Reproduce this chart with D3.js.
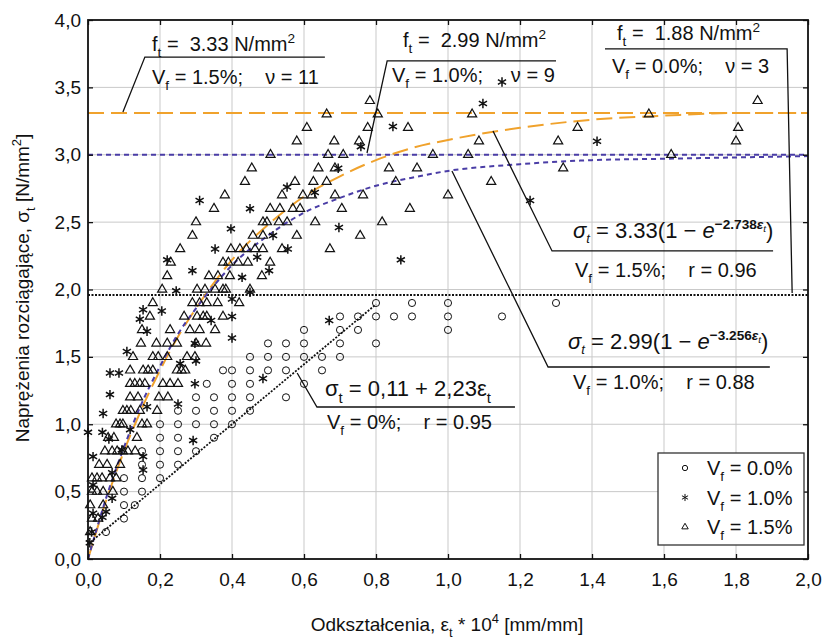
<!DOCTYPE html>
<html>
<head>
<meta charset="utf-8">
<script src="https://cdn.jsdelivr.net/npm/d3@7"></script>
<style>
  body { margin: 0; background: #fff; }
  text { font-family: "Liberation Sans", Arial, sans-serif; fill: #111; white-space: pre; }
</style>
</head>
<body>
<svg id="chart" width="826" height="639"></svg>
<script>
// ---- data ----
const xTicks = [0, 0.2, 0.4, 0.6, 0.8, 1.0, 1.2, 1.4, 1.6, 1.8, 2.0];
const xTickLabels = ["0,0", "0,2", "0,4", "0,6", "0,8", "1,0", "1,2", "1,4", "1,6", "1,8", "2,0"];
const yTicks = [0, 0.5, 1.0, 1.5, 2.0, 2.5, 3.0, 3.5, 4.0];
const yTickLabels = ["0,0", "0,5", "1,0", "1,5", "2,0", "2,5", "3,0", "3,5", "4,0"];

// Vf = 0.0 % (circles), grouped by stress level
const circleRows = [
  [1.9, [0.8, 0.9, 1.0, 1.3]],
  [1.8, [0.7, 0.75, 0.8, 0.85, 0.9, 1.0, 1.15]],
  [1.7, [0.6, 0.7, 0.75, 1.0]],
  [1.6, [0.5, 0.55, 0.6, 0.7, 0.8]],
  [1.5, [0.45, 0.5, 0.55, 0.6, 0.65, 0.7]],
  [1.4, [0.375, 0.4, 0.45, 0.5, 0.55, 0.65]],
  [1.3, [0.33, 0.4, 0.45, 0.6]],
  [1.2, [0.3, 0.35, 0.4, 0.45, 0.55]],
  [1.1, [0.25, 0.3, 0.35, 0.4, 0.45]],
  [1.0, [0.2, 0.25, 0.3, 0.35, 0.4]],
  [0.9, [0.2, 0.25, 0.35]],
  [0.8, [0.15, 0.2, 0.25, 0.3]],
  [0.7, [0.15, 0.2, 0.25]],
  [0.6, [0.1, 0.15, 0.2]],
  [0.5, [0.1, 0.15]],
  [0.4, [0.1, 0.13]],
  [0.3, [0.1]],
  [0.2, [0.05]]
];

// Vf = 1.5 % (triangles)
const triangleRows = [
  [3.4, [0.783, 1.86]],
  [3.3, [0.663, 0.805, 1.067, 1.558]],
  [3.2, [0.608, 0.777, 0.889, 1.36, 1.806]],
  [3.1, [0.58, 0.684, 0.753, 1.086, 1.306, 1.80]],
  [3.0, [0.507, 0.667, 0.709, 0.958, 1.056, 1.62]],
  [2.9, [0.455, 0.64, 0.686, 0.836, 0.914, 1.32]],
  [2.8, [0.436, 0.575, 0.626, 0.663, 0.855, 1.12]],
  [2.7, [0.38, 0.539, 0.597, 0.622, 0.686, 0.764, 1.0]],
  [2.6, [0.35, 0.506, 0.533, 0.569, 0.589, 0.705, 0.894]],
  [2.5, [0.30, 0.486, 0.497, 0.53, 0.553, 0.631, 0.817]],
  [2.4, [0.29, 0.458, 0.486, 0.58, 0.756]],
  [2.3, [0.256, 0.397, 0.422, 0.44, 0.464, 0.486, 0.539, 0.672]],
  [2.2, [0.23, 0.375, 0.39, 0.417, 0.444, 0.506]],
  [2.1, [0.22, 0.336, 0.361, 0.394, 0.483]],
  [2.0, [0.206, 0.303, 0.325, 0.353, 0.375, 0.383, 0.45]],
  [1.9, [0.18, 0.29, 0.31, 0.33, 0.36, 0.42]],
  [1.8, [0.172, 0.267, 0.303, 0.32, 0.33, 0.375]],
  [1.7, [0.15, 0.228, 0.283, 0.31, 0.353]],
  [1.6, [0.147, 0.19, 0.22, 0.247, 0.30, 0.328]],
  [1.5, [0.125, 0.18, 0.195, 0.22, 0.275, 0.297]],
  [1.4, [0.117, 0.153, 0.167, 0.18, 0.247, 0.26, 0.27]],
  [1.3, [0.117, 0.13, 0.144, 0.158, 0.208, 0.228, 0.25]],
  [1.2, [0.117, 0.139, 0.197, 0.222]],
  [1.1, [0.097, 0.108, 0.119, 0.144, 0.192]],
  [1.0, [0.078, 0.089, 0.097, 0.15, 0.164]],
  [0.9, [0.056, 0.072, 0.136]],
  [0.8, [0.047, 0.067, 0.081, 0.097, 0.111, 0.131]],
  [0.7, [0.031, 0.053, 0.089]],
  [0.6, [0.011, 0.025, 0.039, 0.061, 0.078]],
  [0.5, [0.011, 0.025, 0.042, 0.069]],
  [0.4, [0.006, 0.042]],
  [0.3, [0.011, 0.028]],
  [0.2, [0.006]]
];

// Vf = 1.0 % (stars), [strain, stress]
const starPoints = [
  [1.097, 3.38], [1.15, 3.54], [0.847, 3.21], [0.758, 3.06], [0.695, 2.9], [0.553, 2.76],
  [0.63, 2.72], [0.31, 2.66], [1.228, 2.66], [1.414, 3.1], [0.45, 2.6], [0.397, 2.45],
  [0.697, 2.46], [0.353, 2.3], [0.555, 2.3], [0.514, 2.4], [0.47, 2.24], [0.503, 2.14],
  [0.869, 2.22], [0.22, 2.22], [0.29, 2.14], [0.428, 2.09], [0.245, 1.99], [0.45, 1.98],
  [0.40, 1.93], [0.153, 1.85], [0.205, 1.84], [0.144, 1.78], [0.40, 1.80], [0.342, 1.77],
  [0.67, 1.77], [0.164, 1.69], [0.40, 1.64], [0.297, 1.60], [0.108, 1.54], [0.30, 1.47],
  [0.256, 1.45], [0.061, 1.38], [0.086, 1.38], [0.486, 1.34], [0.297, 1.30], [0.061, 1.22],
  [0.25, 1.15], [0.164, 1.13], [0.042, 1.08], [0.117, 0.96], [0.0, 0.94], [0.04, 0.94],
  [0.058, 0.89], [0.292, 0.88], [0.094, 0.81], [0.014, 0.76], [0.153, 0.76], [0.153, 0.66],
  [0.067, 0.64], [0.014, 0.55], [0.067, 0.45], [0.014, 0.34], [0.05, 0.35], [0.04, 0.31],
  [0.01, 0.2], [0.005, 0.12]
];

// fitted curves
const fitX = [0, 0.025, 0.05, 0.1, 0.15, 0.2, 0.25, 0.3, 0.35, 0.4, 0.5, 0.6, 0.7, 0.8, 0.9, 1.0, 1.2, 1.4, 1.6, 1.8, 2.0];
const fit15 = [0, 0.22, 0.43, 0.80, 1.12, 1.40, 1.65, 1.86, 2.05, 2.22, 2.48, 2.69, 2.84, 2.96, 3.05, 3.11, 3.20, 3.26, 3.29, 3.31, 3.31];
const fit10 = [0, 0.23, 0.45, 0.83, 1.16, 1.43, 1.67, 1.86, 2.03, 2.18, 2.40, 2.57, 2.68, 2.77, 2.83, 2.88, 2.93, 2.96, 2.97, 2.98, 2.99];
const linX = [0, 0.8];
const lin0 = [0.11, 1.89];
const ftLevels = [3.31, 3.0, 1.96]; // Vf 1.5, 1.0, 0.0

const orange = "#f0a22c", blue = "#4a3da6";

// ---- chart ----
const svg = d3.select("#chart");
const x = d3.scaleLinear().domain([0, 2]).range([88, 808]);
const y = d3.scaleLinear().domain([0, 4]).range([559, 20]);

// grid
svg.append("g").selectAll("line").data(xTicks.slice(1, -1)).join("line")
  .attr("x1", d => x(d)).attr("x2", d => x(d)).attr("y1", y(0)).attr("y2", y(4))
  .attr("stroke", "#c9c9c9").attr("stroke-width", 1);
svg.append("g").selectAll("line").data(yTicks.slice(1, -1)).join("line")
  .attr("y1", d => y(d)).attr("y2", d => y(d)).attr("x1", x(0)).attr("x2", x(2))
  .attr("stroke", "#c9c9c9").attr("stroke-width", 1);

// f_t levels
const levelStyle = [
  { c: orange, w: 2, dash: "16,7" },
  { c: blue, w: 2, dash: "5,4" },
  { c: "#111", w: 2, dash: "2,1.5" }
];
svg.append("g").selectAll("line").data(ftLevels).join("line")
  .attr("x1", x(0)).attr("x2", x(2)).attr("y1", d => y(d)).attr("y2", d => y(d))
  .attr("stroke", (d, i) => levelStyle[i].c).attr("stroke-width", (d, i) => levelStyle[i].w)
  .attr("stroke-dasharray", (d, i) => levelStyle[i].dash);

// fits
const line = d3.line().x(d => x(d[0])).y(d => y(d[1])).curve(d3.curveMonotoneX);
svg.append("path").datum(fitX.map((v, i) => [v, fit15[i]])).attr("d", line)
  .attr("fill", "none").attr("stroke", orange).attr("stroke-width", 2).attr("stroke-dasharray", "16,7");
svg.append("path").datum(fitX.map((v, i) => [v, fit10[i]])).attr("d", line)
  .attr("fill", "none").attr("stroke", blue).attr("stroke-width", 2).attr("stroke-dasharray", "5,4");
svg.append("path").datum(linX.map((v, i) => [v, lin0[i]])).attr("d", d3.line().x(d => x(d[0])).y(d => y(d[1])))
  .attr("fill", "none").attr("stroke", "#111").attr("stroke-width", 1.8).attr("stroke-dasharray", "2,1.5");

// markers
const flat = rows => rows.flatMap(([s, xs]) => xs.map(e => [e, s]));
const circ = d3.symbol(d3.symbolCircle, 40)();
const tri = d3.symbol(d3.symbolTriangle, 36)();
const star = d3.symbol(d3.symbolAsterisk, 62)();

function markers(points, shape, sw) {
  svg.append("g").selectAll("path").data(points).join("path")
    .attr("d", shape)
    .attr("transform", d => `translate(${x(d[0])},${y(d[1])})`)
    .attr("fill", "none").attr("stroke", "#111").attr("stroke-width", sw);
}
markers(flat(circleRows), circ, 1);
markers(flat(triangleRows), tri, 1.2);
markers(starPoints, star, 1.5);

// axes, ticks inside on all four sides
const fmtX = (d, i) => xTickLabels[i];
const fmtY = (d, i) => yTickLabels[i];
const gx = svg.append("g").attr("transform", `translate(0,${y(0)})`)
  .call(d3.axisBottom(x).tickValues(xTicks).tickFormat(fmtX).tickSize(-5).tickPadding(10));
const gy = svg.append("g").attr("transform", `translate(${x(0)},0)`)
  .call(d3.axisLeft(y).tickValues(yTicks).tickFormat(fmtY).tickSize(-5).tickPadding(7));
svg.append("g").attr("transform", `translate(0,${y(4)})`)
  .call(d3.axisTop(x).tickValues(xTicks).tickFormat("").tickSize(-5));
svg.append("g").attr("transform", `translate(${x(2)},0)`)
  .call(d3.axisRight(y).tickValues(yTicks).tickFormat("").tickSize(-5));
svg.selectAll(".domain").remove();
svg.selectAll(".tick line").attr("stroke", "#111").attr("stroke-width", 1.3);
svg.selectAll(".tick text").attr("font-size", 19).attr("fill", "#111")
  .attr("font-family", "'Liberation Sans', Arial, sans-serif");
gx.selectAll(".tick text").attr("dy", "0.9em");
svg.append("rect").attr("x", x(0)).attr("y", y(4)).attr("width", x(2) - x(0)).attr("height", y(0) - y(4))
  .attr("fill", "none").attr("stroke", "#111").attr("stroke-width", 1.8);

// rich text: parts are [text, baselineOffset, scale, style]
function rich(parts, px, py, fs, opts = {}) {
  const t = svg.append("text").attr("x", px).attr("y", py).attr("font-size", fs)
    .attr("text-anchor", opts.anchor || "start");
  if (opts.family) t.attr("font-family", opts.family);
  if (opts.rotate) t.attr("transform", `rotate(${opts.rotate},${px},${py})`);
  let cur = 0;
  parts.forEach(([txt, off, sc, st]) => {
    const ts = t.append("tspan").attr("dy", off - cur).attr("font-size", fs * (sc || 1)).text(txt);
    if (st && st.includes("i")) ts.attr("font-style", "italic");
    if (st && st.includes("b")) ts.attr("font-weight", "bold");
    cur = off;
  });
  return t;
}
// simple markup: _{sub} ^{sup}
function mk(str, fs) {
  const parts = [], re = /([_^])\{([^}]*)\}/g;
  let last = 0, m;
  while ((m = re.exec(str))) {
    if (m.index > last) parts.push([str.slice(last, m.index), 0, 1]);
    parts.push([m[2], m[1] === "_" ? fs * 0.3 : -fs * 0.4, 0.68]);
    last = re.lastIndex;
  }
  if (last < str.length) parts.push([str.slice(last), 0, 1]);
  return parts;
}

// annotation leaders (in data units)
const leaders = [
  [[0.097, 3.317], [0.158, 3.725], [0.658, 3.725]],
  [[0.775, 3.013], [0.831, 3.696], [1.30, 3.696]],
  [[1.956, 1.974], [1.942, 3.785], [1.436, 3.785]],
  [[1.125, 3.176], [1.289, 2.286], [1.903, 2.286]],
  [[1.011, 2.879], [1.278, 1.425], [1.894, 1.425]],
  [[0.581, 1.38], [0.636, 1.128], [1.186, 1.128]]
];
svg.append("g").selectAll("path").data(leaders).join("path")
  .attr("d", d3.line().x(d => x(d[0])).y(d => y(d[1])))
  .attr("fill", "none").attr("stroke", "#111").attr("stroke-width", 1.3);

const fs = 20;
rich(mk("f_{t} =  3.33 N/mm^{2}", fs), 152, 51, fs);
rich(mk("V_{f} = 1.5%;    ν = 11", fs), 152, 84, fs);
rich(mk("f_{t} =  2.99 N/mm^{2}", fs), 403, 47, fs);
rich(mk("V_{f} = 1.0%;     ν = 9", fs), 392, 82, fs);
rich(mk("f_{t} =  1.88 N/mm^{2}", fs), 617, 40, fs);
rich(mk("V_{f} = 0.0%;    ν = 3", fs), 612, 73, fs);

const serif = "'Liberation Serif', 'DejaVu Serif', serif";
rich([["σ", 0, 1, "i"], ["t", 5, 0.6, "i"], [" = 3.33(1 − ", 0, 1], ["e", 0, 1, "i"],
      ["−2.738", -9, 0.62, "b"], ["ε", -9, 0.62, "bi"], ["t", -6, 0.45, "i"], [")", 0, 1]],
  573, 238, 22, { family: serif });
rich(mk("V_{f} = 1.5%;    r = 0.96", fs), 575, 277, fs);
rich([["σ", 0, 1, "i"], ["t", 5, 0.6, "i"], [" = 2.99(1 − ", 0, 1], ["e", 0, 1, "i"],
      ["−3.256", -9, 0.62, "b"], ["ε", -9, 0.62, "bi"], ["t", -6, 0.45, "i"], [")", 0, 1]],
  568, 349, 22, { family: serif });
rich(mk("V_{f} = 1.0%;    r = 0.88", fs), 573, 389, fs);
rich(mk("σ_{t} = 0,11 + 2,23ε_{t}", 22), 325, 396, 22);
rich(mk("V_{f} = 0%;    r = 0.95", fs), 327, 429, fs);

// axis titles
rich(mk("Odkształcenia, ε_{t} * 10^{4} [mm/mm]", 19), 447, 631, 19, { anchor: "middle" });
rich(mk("Naprężenia rozciągające, σ_{t} [N/mm^{2}]", 19), 29, 288, 19, { anchor: "middle", rotate: -90 });

// legend
const legendLabels = ["V_{f} = 0.0%", "V_{f} = 1.0%", "V_{f} = 1.5%"];
svg.append("rect").attr("x", 658).attr("y", 453).attr("width", 146).attr("height", 92)
  .attr("fill", "#fff").attr("stroke", "#333").attr("stroke-width", 1.3);
legendLabels.forEach((lab, i) => {
  const cy = 468 + i * 29.5;
  svg.append("path").attr("d", d3.symbol([d3.symbolCircle, d3.symbolAsterisk, d3.symbolTriangle][i], [22, 35, 18][i])())
    .attr("transform", `translate(685,${cy})`).attr("fill", "none").attr("stroke", "#111").attr("stroke-width", 1);
  rich(mk(lab, fs), 707, cy + 7, fs);
});
</script>
</body>
</html>
